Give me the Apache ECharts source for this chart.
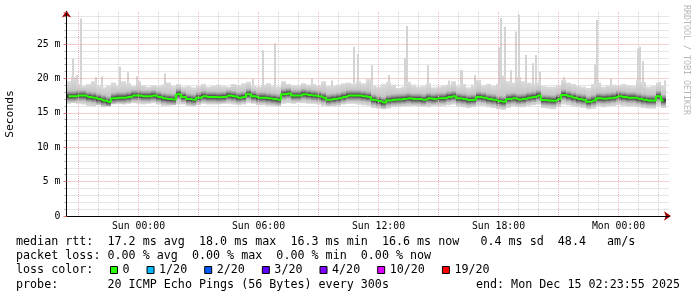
<!DOCTYPE html>
<html><head><meta charset="utf-8">
<script src="https://cdn.jsdelivr.net/npm/echarts@6.0.0/dist/echarts.min.js"></script>
<style>html,body{margin:0;padding:0;background:#fff}#c{width:697px;height:297px}</style>
</head><body><div id="c"></div>
<script>
// x values are hours relative to Sun 00:00
const startHour = -3.6;        // Sat 20:24 (graph start)
const firstSample = -3.5;      // Sat 20:30
const sampleStep = 0.25;       // 15 minutes

const median = [
17.4,17.4,17.5,17.5,17.3,17.2,17.0,16.8,16.6,17.1,
17.2,17.2,17.3,17.5,17.5,17.4,17.4,17.5,17.3,17.1,
17.0,16.95,17.7,17.3,17.0,16.9,17.2,17.4,17.3,17.3,
17.25,17.3,17.5,17.4,17.2,17.3,17.7,17.4,17.2,17.2,
17.1,17.0,16.9,17.7,17.8,17.5,17.5,17.7,17.6,17.5,
17.4,17.2,16.9,17.0,17.1,17.3,17.5,17.5,17.5,17.4,
17.3,16.9,16.7,16.5,16.8,16.9,16.95,17.0,17.1,17.0,
17.0,16.9,17.1,17.0,17.1,17.1,17.3,17.4,17.1,17.0,
16.85,16.9,17.3,17.2,17.0,16.9,16.7,16.6,17.0,17.1,
16.95,17.0,17.2,17.3,17.5,16.85,16.8,16.75,17.0,17.6,
17.4,17.2,17.0,16.9,16.6,16.8,17.1,17.05,17.1,17.2,
17.4,17.3,17.2,17.2,17.05,16.9,16.8,16.8,17.4,16.8];

const smokeHi = [
19.6,20.2,19.2,18.9,19.2,19.6,19.0,18.7,19.0,19.4,
19.0,19.6,19.3,18.9,19.6,19.0,18.8,19.0,18.9,19.1,
19.4,18.9,19.2,18.8,18.9,18.7,18.9,19.2,18.8,18.9,
19.1,18.9,18.8,19.2,19.0,19.3,19.5,18.9,18.8,19.1,
19.3,18.9,18.8,19.6,19.2,19.0,19.0,19.3,19.1,19.2,
19.0,19.6,18.9,18.9,19.1,19.3,19.4,19.2,19.6,19.3,
19.9,19.0,18.8,19.2,19.5,19.1,18.6,18.8,19.5,19.1,
18.8,18.9,19.3,18.7,18.8,19.0,19.1,19.6,18.9,19.2,
18.7,19.1,19.8,19.0,19.2,18.9,19.2,20.4,19.6,19.4,
20.2,19.6,19.4,19.3,19.4,18.9,18.8,18.8,19.0,19.8,
19.4,19.2,18.9,18.8,18.6,19.2,19.4,18.8,19.0,19.1,
19.0,19.2,19.0,18.9,19.8,19.5,18.8,18.9,19.4,19.0];

const smokeLo = [
16.3,16.4,16.3,16.2,16.0,15.9,16.1,15.8,15.9,16.2,
16.3,16.2,16.3,16.4,16.3,16.2,16.3,16.4,16.2,16.0,
16.0,16.1,16.2,16.2,16.0,15.9,16.1,16.3,16.2,16.2,
16.2,16.3,16.3,16.2,16.1,16.2,16.4,16.3,16.1,16.1,
16.0,16.0,15.9,16.3,16.4,16.3,16.4,16.4,16.3,16.3,
16.2,16.0,15.9,15.9,16.0,16.2,16.3,16.3,16.2,16.1,
16.0,15.7,15.6,15.5,15.6,15.8,15.8,15.9,15.9,16.0,
15.9,15.9,15.8,16.0,15.9,16.0,16.1,16.2,15.9,15.8,
15.7,15.8,16.0,16.0,15.8,15.7,15.5,15.4,15.7,15.9,
15.8,15.8,16.0,16.1,16.2,15.7,15.6,15.5,15.8,16.2,
16.1,15.9,15.8,15.7,15.5,15.6,15.9,15.8,15.9,16.0,
16.1,16.0,15.9,15.9,15.8,15.7,15.6,15.6,16.0,15.7];

const spikeHours = [-3.285,-3.1,-2.9,-2.15,-1.815,-0.95,-0.525,-0.065,1.325,
 5.735,6.235,6.815,8.685,9.685,10.75,10.985,11.685,12.5,13.3,13.435,14.45,15.5,
 16.15,16.8,18.025,18.1,18.3,18.635,18.885,19.015,19.385,19.735,19.885,20.05,
 21.25,22.8,22.935,23.6,24.985,25.075,25.225,26.05,26.3];
const spikeValues = [22.9,20.5,28.7,20.2,20.3,21.7,20.9,20.3,20.7,
 19.9,24.1,25.1,20.0,19.7,24.6,23.6,21.9,20.5,23.0,27.6,21.9,19.7,
 21.2,20.5,24.5,28.8,27.5,21.2,26.8,29.2,23.4,22.2,23.4,21.0,
 20.2,22.0,28.5,20.0,24.3,24.6,22.5,19.5,19.7];

const xTickHours = [0, 6, 12, 18, 24];
const xTickLabels = ['Sun 00:00', 'Sun 06:00', 'Sun 12:00', 'Sun 18:00', 'Mon 00:00'];
const yTicks = [0, 5, 10, 15, 20, 25];
const yTickLabels = ['0', '5 m', '10 m', '15 m', '20 m', '25 m'];
const yMax = 29.65;

const rttStats = ['17.2 ms avg', '18.0 ms max', '16.3 ms min', '16.6 ms now', ' 0.4 ms sd', '48.4   am/s'];
const lossStats = ['0.00 % avg', '0.00 % max', '0.00 % min', '0.00 % now'];
const lossLabels = ['0', '1/20', '2/20', '3/20', '4/20', '10/20', '19/20'];
const lossColors = ['#26ff00', '#00b8ff', '#0059ff', '#5e00ff', '#7e00ff', '#dd00ff', '#ff0000'];
const probeText = '20 ICMP Echo Pings (56 Bytes) every 300s';
const endText = 'end: Mon Dec 15 02:23:55 2025';

const xMax = startHour + 602.5 / 20;
const majorX = [], minorX = [];
for (let h = -3; h <= 26; h++) (h % 3 === 0 ? majorX : minorX).push(h);
const minorY = [];
for (let v = 1; v < 30; v++) if (v % 5) minorY.push(v);

const MONO = '"DejaVu Sans Mono", monospace';
const chart = echarts.init(document.getElementById('c'), null, {renderer: 'canvas'});

const smokeData = median.map((m, i) => [firstSample + i * sampleStep, smokeLo[i], smokeHi[i], m]);
const spikeData = spikeHours.map((h, i) => [h, spikeValues[i]]);

function clampX(x, cs) { return Math.min(cs.x + cs.width, Math.max(cs.x, x)); }

const graphics = [];
const lineY = [241.5, 256, 270, 285];
graphics.push({type: 'text', x: 10.5, y: 114, rotation: Math.PI / 2,
  style: {text: 'Seconds', fontFamily: MONO, fontSize: 11.3, fill: '#000', align: 'center', verticalAlign: 'middle'}});
graphics.push({type: 'text', x: 686, y: 60, rotation: -Math.PI / 2,
  style: {text: 'RRDTOOL / TOBI OETIKER', fontFamily: MONO, fontSize: 8.3, fill: '#b8b8b8', align: 'center', verticalAlign: 'middle'}});
graphics.push({type: 'text', x: 16, y: lineY[0],
  style: {text: 'median rtt:  ' + rttStats.join('  '), fontFamily: MONO, fontSize: 11.7, fill: '#000', verticalAlign: 'middle'}});
graphics.push({type: 'text', x: 16, y: lineY[1],
  style: {text: 'packet loss: ' + lossStats.join('  '), fontFamily: MONO, fontSize: 11.7, fill: '#000', verticalAlign: 'middle'}});
graphics.push({type: 'text', x: 16, y: lineY[2],
  style: {text: 'loss color:', fontFamily: MONO, fontSize: 11.7, fill: '#000', verticalAlign: 'middle'}});
let bx = 110;
lossLabels.forEach((lab, i) => {
  graphics.push({type: 'rect', shape: {x: bx + 0.5, y: 266.5, width: 7, height: 7},
    style: {fill: lossColors[i], stroke: '#000', lineWidth: 1}});
  graphics.push({type: 'text', x: bx + 12.5, y: lineY[2],
    style: {text: lab, fontFamily: MONO, fontSize: 11.7, fill: '#000', verticalAlign: 'middle'}});
  bx += 12.5 + lab.length * 7.04 + 17;
});
graphics.push({type: 'text', x: 16, y: lineY[3],
  style: {text: 'probe:       ' + probeText, fontFamily: MONO, fontSize: 11.7, fill: '#000', verticalAlign: 'middle'}});
graphics.push({type: 'text', x: 680, y: lineY[3],
  style: {text: endText, fontFamily: MONO, fontSize: 11.7, fill: '#000', align: 'right', verticalAlign: 'middle'}});

const option = {
  animation: false,
  backgroundColor: '#fff',
  grid: {left: 66.5, right: 28, top: 12, bottom: 81},
  xAxis: [
    {type: 'value', min: startHour, max: xMax, position: 'bottom', z: 3,
     axisLine: {show: true, onZero: false, lineStyle: {color: '#000', width: 1}},
     axisTick: {show: false, customValues: majorX},
     axisLabel: {customValues: xTickHours, formatter: v => xTickLabels[xTickHours.indexOf(v)] || '',
       fontFamily: MONO, fontSize: 9.8, color: '#000', margin: 5},
     splitLine: {show: true, lineStyle: {color: '#f2b4b4', type: [1, 1], width: 1}}},
    {type: 'value', min: startHour, max: xMax, position: 'bottom', z: 2,
     axisLine: {show: true, onZero: false, lineStyle: {color: '#a00000', width: 0},
       symbol: ['none', 'arrow'], symbolSize: [7, 7], symbolOffset: [0, 2]},
     axisTick: {show: false, customValues: minorX},
     axisLabel: {show: false},
     splitLine: {show: true, lineStyle: {color: '#cccccc', type: [1, 1], width: 1}}}
  ],
  yAxis: [
    {type: 'value', min: 0, max: yMax, interval: 5, z: 3,
     axisLine: {show: true, onZero: false, lineStyle: {color: '#000', width: 1}},
     axisTick: {show: true, length: 3, lineStyle: {color: '#e07070'}},
     axisLabel: {formatter: v => { const k = yTicks.indexOf(v); return k < 0 ? '' : yTickLabels[k]; },
       fontFamily: MONO, fontSize: 9.8, color: '#000', margin: 6},
     splitLine: {show: true, showMaxLine: false, lineStyle: {color: '#eba0a0', type: [1, 1], width: 1}}},
    {type: 'value', min: 0, max: yMax, position: 'left', z: 2,
     axisLine: {show: true, onZero: false, lineStyle: {color: '#a00000', width: 0},
       symbol: ['none', 'arrow'], symbolSize: [7, 7], symbolOffset: [0, 1.5]},
     axisTick: {show: true, length: 2, customValues: minorY, lineStyle: {color: '#999'}},
     axisLabel: {show: false},
     splitLine: {show: true, lineStyle: {color: '#cccccc', type: [1, 1], width: 1}}}
  ],
  series: [
    {type: 'custom', name: 'spikes', xAxisIndex: 0, yAxisIndex: 0, data: spikeData, z: 2,
     renderItem(params, api) {
       const h = api.value(0), v = api.value(1);
       const idx = Math.max(0, Math.min(median.length - 1, Math.round((h - firstSample) / sampleStep)));
       const a = api.coord([h - 0.05, v]), b = api.coord([h + 0.05, median[idx]]);
       const cs = params.coordSys;
       const x1 = Math.round(clampX(a[0], cs)), x2 = Math.round(clampX(b[0], cs));
       if (x2 <= x1) return null;
       return {type: 'rect', shape: {x: x1, y: a[1], width: x2 - x1, height: b[1] - a[1]},
         style: {fill: '#d4d4d4'}};
     }},
    {type: 'custom', name: 'smoke', xAxisIndex: 0, yAxisIndex: 0, data: smokeData, z: 2,
     renderItem(params, api) {
       const t = api.value(0), lo = api.value(1), hi = api.value(2), md = api.value(3);
       const a = api.coord([t - sampleStep / 2, hi]), b = api.coord([t + sampleStep / 2, lo]);
       const cs = params.coordSys;
       const x1 = Math.round(clampX(a[0], cs)), x2 = Math.round(clampX(b[0], cs));
       if (x2 <= x1) return null;
       const yHi = a[1], yLo = b[1], hgt = yLo - yHi;
       const off = val => Math.min(1, Math.max(0, (api.coord([t, val])[1] - yHi) / hgt));
       const stops = [
         [0, '#dcdcdc'], [off(md + 0.85), '#c6c6c6'], [off(md + 0.5), '#989898'],
         [off(md + 0.22), '#5a5a5a'], [off(md), '#383838'], [off(md - 0.22), '#5a5a5a'],
         [off(md - 0.5), '#989898'], [off(md - 0.8), '#c6c6c6'], [1, '#dcdcdc']
       ].map(s => ({offset: s[0], color: s[1]}));
       return {type: 'rect', shape: {x: x1, y: yHi, width: x2 - x1, height: hgt},
         style: {fill: new echarts.graphic.LinearGradient(0, 0, 0, 1, stops)}};
     }},
    {type: 'line', name: 'median', xAxisIndex: 0, yAxisIndex: 0, z: 3,
     data: median.map((m, i) => [firstSample + i * sampleStep, m]),
     step: 'middle', symbol: 'none', lineStyle: {color: '#26ff00', width: 2}}
  ],
  graphic: graphics
};
chart.setOption(option);
</script>
</body></html>
